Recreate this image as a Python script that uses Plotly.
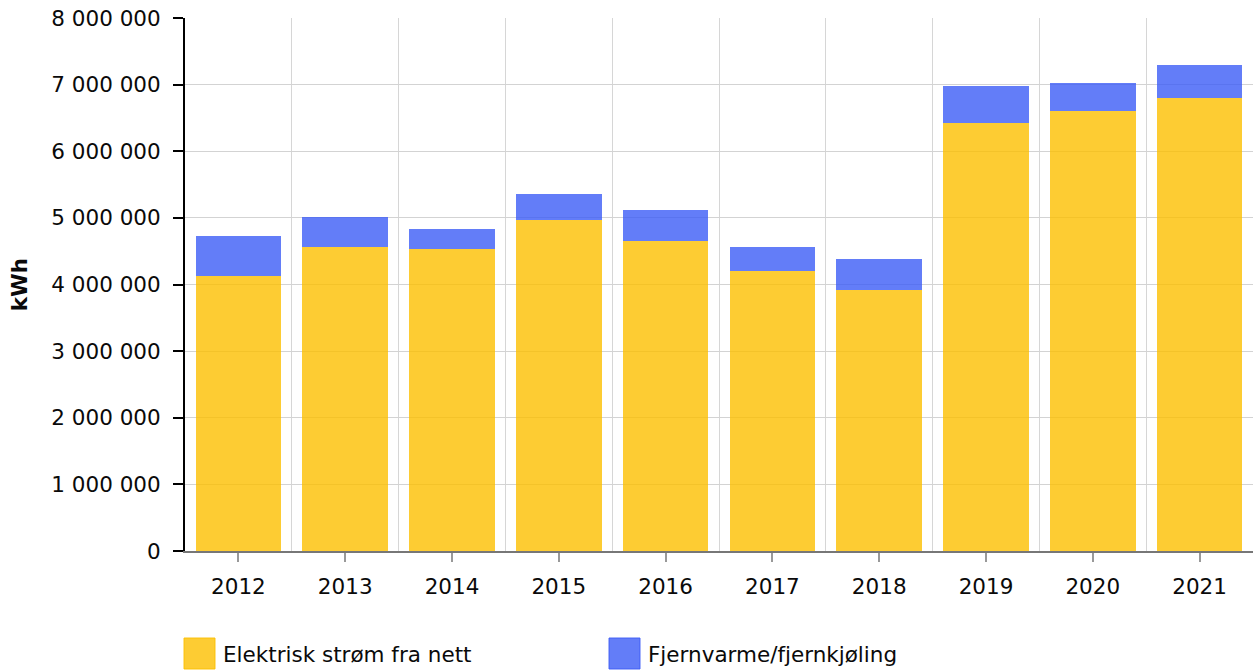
import plotly.graph_objects as go

years = [2012, 2013, 2014, 2015, 2016, 2017, 2018, 2019, 2020, 2021]
elektrisk = [4130000, 4560000, 4530000, 4970000, 4650000, 4200000, 3920000, 6420000, 6610000, 6800000]
fjernvarme = [600000, 450000, 300000, 390000, 465000, 360000, 465000, 560000, 415000, 490000]
series_names = ["Elektrisk strøm fra nett", "Fjernvarme/fjernkjøling"]
y_ticks = [0, 1000000, 2000000, 3000000, 4000000, 5000000, 6000000, 7000000, 8000000]

yellow = "rgba(252,191,0,0.8)"
yellow_line = "rgba(252,191,0,0.9)"
blue = "rgba(60,92,246,0.8)"
blue_line = "rgba(60,92,246,0.9)"
FONT = "DejaVu Sans"
FS = 21.5

fig = go.Figure()
fig.add_trace(go.Bar(x=years, y=elektrisk, name=series_names[0], width=0.8,
                     marker=dict(color=yellow, line=dict(width=0)), showlegend=False))
fig.add_trace(go.Bar(x=years, y=fjernvarme, name=series_names[1], width=0.8,
                     marker=dict(color=blue, line=dict(width=0)), showlegend=False))

fig.update_layout(
    width=1257, height=670,
    margin=dict(l=185, r=4, t=18, b=119),
    barmode="stack",
    plot_bgcolor="white", paper_bgcolor="white",
    font=dict(family=FONT, size=FS, color="#0a0a0a"),
    separators=", ",
    xaxis=dict(
        range=[2011.5, 2021.5], tickvals=years, ticktext=[str(y) for y in years],
        showgrid=False, zeroline=False,
        ticks="outside", ticklen=9, tickcolor="#999", tickwidth=1.5,
        ticklabelstandoff=6,
        showline=True, linecolor="#777", linewidth=1.5,
        minor=dict(tick0=2011.5, dtick=1, showgrid=True, gridcolor="#d6d6d6", gridwidth=1, ticks=""),
    ),
    yaxis=dict(
        range=[0, 8000000], tickvals=y_ticks, tickformat=",d",
        showgrid=True, gridcolor="#d3d3d3", gridwidth=1, zeroline=False,
        ticks="outside", ticklen=10, tickcolor="black", tickwidth=2,
        ticklabelstandoff=8,
        showline=True, linecolor="black", linewidth=2,
        title=dict(text="<b>kWh</b>", font=dict(size=FS, family=FONT), standoff=18),
    ),
)

# legend drawn as layout decoration
legend_items = [(series_names[0], yellow, yellow_line, 184), (series_names[1], blue, blue_line, 609)]
for name, fill, line, x0 in legend_items:
    fig.add_shape(type="rect", xref="paper", yref="paper",
                  x0=(x0 - 185) / 1068, x1=(x0 + 31 - 185) / 1068,
                  y0=(551 - 669) / 533, y1=(551 - 638) / 533,
                  fillcolor=fill, line=dict(color=line, width=1))
    fig.add_annotation(xref="paper", yref="paper", x=(x0 + 37 - 185) / 1068, y=(551 - 654) / 533,
                       text=name, showarrow=False, xanchor="left", yanchor="middle",
                       font=dict(family=FONT, size=FS, color="#0a0a0a"))

fig.write_html("out.html", config={"displayModeBar": False},
               post_script="document.body.style.margin='0';document.body.style.padding='0';")
